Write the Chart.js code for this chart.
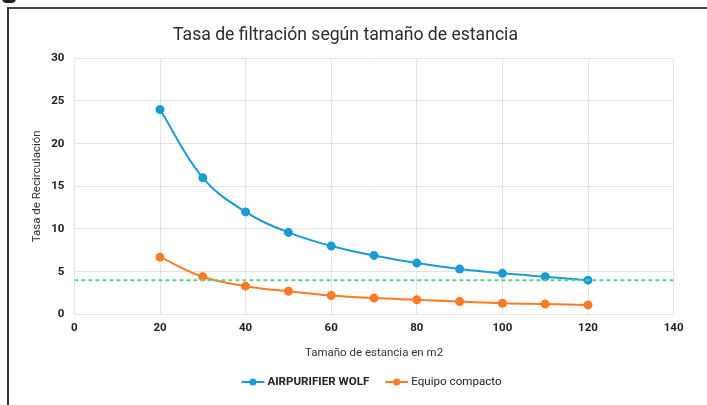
<!DOCTYPE html>
<html>
<head>
<meta charset="utf-8">
<script src="https://cdn.jsdelivr.net/npm/chart.js@4.4.1/dist/chart.umd.min.js"></script>
<style>
  html, body { margin: 0; padding: 0; background: #fff; }
  #wrap { position: relative; width: 707px; height: 405px; overflow: hidden; }
  #frame { position: absolute; left: 7px; top: 7px; width: 720px; height: 420px; border-left: 2px solid #333; border-top: 2px solid #444; box-sizing: border-box; }
  #blob { position: absolute; left: 2px; top: -6px; width: 14px; height: 9px; background: #222; border-radius: 6px; }
  canvas { position: absolute; left: 0; top: 0; }
</style>
</head>
<body>
<div id="wrap">
  <div id="frame"></div>
  <div id="blob"></div>
  <canvas id="c" width="707" height="405"></canvas>
</div>
<script>
const titleText = 'Tasa de filtración según tamaño de estancia';
const xTitle = 'Tamaño de estancia en m2';
const yTitle = 'Tasa de Recirculación';
const roomSizes = [20, 30, 40, 50, 60, 70, 80, 90, 100, 110, 120];
const wolfValues = [24, 16, 12, 9.6, 8, 6.9, 6, 5.3, 4.8, 4.4, 4];
const compactValues = [6.7, 4.4, 3.3, 2.7, 2.2, 1.9, 1.7, 1.5, 1.3, 1.2, 1.1];
const thresholdX = [0, 140];
const thresholdY = [4, 4];
const seriesNames = ['AIRPURIFIER WOLF', 'Equipo compacto'];
const xTicks = [0, 20, 40, 60, 80, 100, 120, 140];
const yTicks = [0, 5, 10, 15, 20, 25, 30];

const BLUE = '#1b9ad8';
const ORANGE = '#fd7a24';
const GREEN = '#5fcf90';
const FONT = 'Roboto, "Liberation Sans", sans-serif';

const toPts = (xs, ys) => xs.map((x, i) => ({x: x, y: ys[i]}));

const titleLegendPlugin = {
  id: 'titleLegend',
  afterDraw(chart) {
    const ctx = chart.ctx;
    ctx.save();
    ctx.fillStyle = '#2b2b2b';
    ctx.font = '17.6px ' + FONT;
    ctx.textAlign = 'center';
    ctx.textBaseline = 'middle';
    ctx.fillText(titleText, 345.5, 36);
    const items = [
      {label: seriesNames[0], color: BLUE, bold: true},
      {label: seriesNames[1], color: ORANGE, bold: false}
    ];
    const sym = 23, gapSym = 3, gapItem = 16;
    const fontFor = it => (it.bold ? 'bold ' : '') + '11.6px ' + FONT;
    let widths = items.map(it => {
      ctx.font = fontFor(it);
      return sym + gapSym + ctx.measureText(it.label).width;
    });
    const total = widths.reduce((a, b) => a + b, 0) + gapItem * (items.length - 1);
    let x = 371.5 - total / 2;
    const y = 382;
    items.forEach((it, i) => {
      ctx.strokeStyle = it.color;
      ctx.lineWidth = 2;
      ctx.beginPath();
      ctx.moveTo(x, y);
      ctx.lineTo(x + sym, y);
      ctx.stroke();
      ctx.fillStyle = it.color;
      ctx.beginPath();
      ctx.arc(x + sym / 2, y, 3.5, 0, Math.PI * 2);
      ctx.fill();
      ctx.fillStyle = '#222';
      ctx.font = fontFor(it);
      ctx.textAlign = 'left';
      ctx.textBaseline = 'middle';
      ctx.fillText(it.label, x + sym + gapSym, y);
      x += widths[i] + gapItem;
    });
    ctx.restore();
  }
};

new Chart(document.getElementById('c'), {
  type: 'line',
  data: {
    datasets: [
      {
        label: seriesNames[0],
        data: toPts(roomSizes, wolfValues),
        borderColor: BLUE, backgroundColor: BLUE,
        borderWidth: 2, pointRadius: 3.5, pointHoverRadius: 3.5,
        tension: 0.4, order: 1
      },
      {
        label: seriesNames[1],
        data: toPts(roomSizes, compactValues),
        borderColor: ORANGE, backgroundColor: ORANGE,
        borderWidth: 2, pointRadius: 3.5, pointHoverRadius: 3.5,
        tension: 0.4, order: 2
      },
      {
        label: 'umbral',
        data: toPts(thresholdX, thresholdY),
        borderColor: GREEN, backgroundColor: GREEN,
        borderWidth: 2, borderDash: [4, 3], pointRadius: 0,
        tension: 0, order: 0
      }
    ]
  },
  options: {
    responsive: false,
    animation: false,
    events: [],
    layout: { padding: { left: 20, right: 33.4, top: 58.3, bottom: 45 } },
    plugins: {
      legend: { display: false },
      title: { display: false },
      tooltip: { enabled: false }
    },
    scales: {
      x: {
        type: 'linear', min: 0, max: 140,
        afterBuildTicks: s => { s.ticks = xTicks.map(v => ({value: v})); },
        afterFit: s => { s.height = 405 - 314.3 - 45; },
        grid: { color: '#e3e3e3', drawTicks: false, lineWidth: 1 },
        border: { color: '#e3e3e3' },
        ticks: { color: '#222', padding: 7, font: { family: FONT, size: 11.5, weight: 'bold' } },
        title: { display: true, text: xTitle, color: '#333', padding: { top: 4, bottom: 0 }, font: { family: FONT, size: 11.5 } }
      },
      y: {
        type: 'linear', min: 0, max: 30,
        afterBuildTicks: s => { s.ticks = yTicks.map(v => ({value: v})); },
        afterFit: s => { s.width = 74.4 - 20; },
        grid: { color: '#e3e3e3', drawTicks: false, lineWidth: 1 },
        border: { color: '#e3e3e3' },
        ticks: { color: '#222', padding: 10, font: { family: FONT, size: 11.5, weight: 'bold' } },
        title: { display: true, text: yTitle, color: '#333', padding: { top: 10, bottom: 0 }, font: { family: FONT, size: 11.5 } }
      }
    }
  },
  plugins: [titleLegendPlugin]
});
</script>
</body>
</html>
